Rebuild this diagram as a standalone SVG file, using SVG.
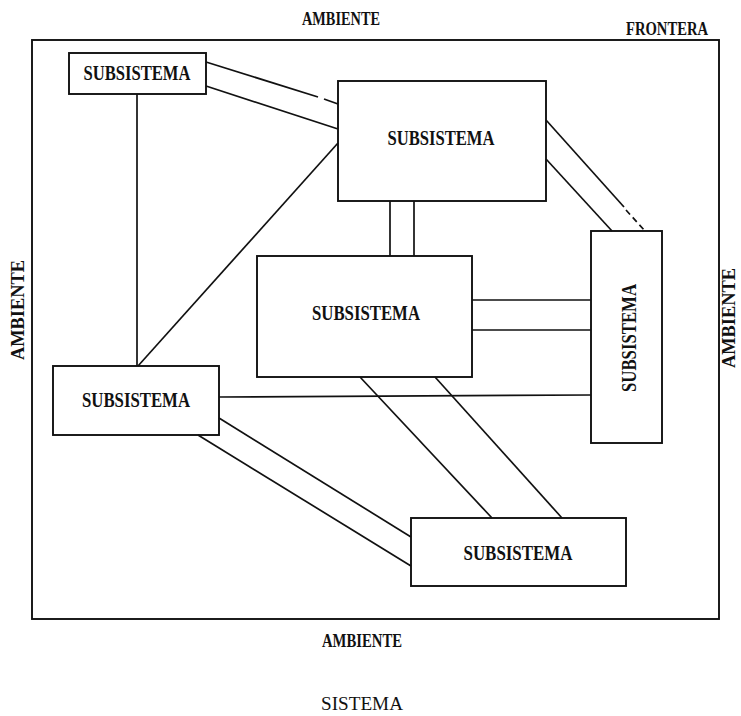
<svg xmlns="http://www.w3.org/2000/svg" width="741" height="716" viewBox="0 0 741 716">
<style>
.box{fill:none;stroke:#111;stroke-width:1.9}
.ln{fill:none;stroke:#111;stroke-width:1.7}
.t{font-family:"Liberation Serif","DejaVu Serif",serif;font-size:20px;font-weight:bold;fill:#111;text-anchor:middle}
.lbl{font-family:"Liberation Serif","DejaVu Serif",serif;font-size:18px;font-weight:bold;fill:#111;text-anchor:middle}
</style>
<rect width="741" height="716" fill="#fff"/>
<g id="frame">
<rect class="box" x="32" y="40" width="687" height="579"/>
</g>
<g id="labels">
<text class="lbl" x="341" y="25" textLength="78" lengthAdjust="spacingAndGlyphs">AMBIENTE</text>
<text class="lbl" x="667" y="35" textLength="82" lengthAdjust="spacingAndGlyphs">FRONTERA</text>
<text class="lbl" transform="translate(24,310) rotate(-90)" x="0" y="0" textLength="100" lengthAdjust="spacingAndGlyphs">AMBIENTE</text>
<text class="lbl" transform="translate(735,318) rotate(-90)" x="0" y="0" textLength="100" lengthAdjust="spacingAndGlyphs">AMBIENTE</text>
<text class="lbl" x="362" y="647" textLength="80" lengthAdjust="spacingAndGlyphs">AMBIENTE</text>
<text class="lbl" x="362" y="710" textLength="82" lengthAdjust="spacingAndGlyphs" style="font-weight:normal;font-size:19px">SISTEMA</text>
</g>
<g id="connectors">
<line class="ln" x1="206" y1="62" x2="318" y2="97"/>
<line class="ln" x1="324" y1="99" x2="338" y2="104"/>
<line class="ln" x1="206" y1="86" x2="338" y2="129"/>
<line class="ln" x1="137" y1="94" x2="137" y2="366"/>
<line class="ln" x1="138" y1="366" x2="338" y2="143"/>
<line class="ln" x1="390" y1="201" x2="390" y2="256"/>
<line class="ln" x1="414" y1="201" x2="414" y2="256"/>
<line class="ln" x1="546" y1="120" x2="624" y2="207"/>
<line class="ln" x1="626" y1="210" x2="645" y2="231" stroke-dasharray="6 4"/>
<line class="ln" x1="546" y1="159" x2="612" y2="231"/>
<line class="ln" x1="472" y1="300" x2="591" y2="300"/>
<line class="ln" x1="472" y1="330" x2="591" y2="330"/>
<line class="ln" x1="219" y1="397" x2="591" y2="395"/>
<line class="ln" x1="360" y1="377" x2="492" y2="518"/>
<line class="ln" x1="435" y1="377" x2="562" y2="518"/>
<line class="ln" x1="219" y1="418" x2="411" y2="537"/>
<line class="ln" x1="198" y1="435" x2="411" y2="566"/>
</g>
<g id="nodeA">
<rect class="box" x="69" y="53" width="137" height="41"/>
<text class="t" x="137" y="80" textLength="107" lengthAdjust="spacingAndGlyphs">SUBSISTEMA</text>
</g>
<g id="nodeB">
<rect class="box" x="338" y="81" width="208" height="120"/>
<text class="t" x="441" y="145" textLength="107" lengthAdjust="spacingAndGlyphs">SUBSISTEMA</text>
</g>
<g id="nodeC">
<rect class="box" x="591" y="231" width="71" height="212"/>
<text class="t" transform="translate(636,338) rotate(-90)" x="0" y="0" textLength="108" lengthAdjust="spacingAndGlyphs">SUBSISTEMA</text>
</g>
<g id="nodeD">
<rect class="box" x="257" y="256" width="215" height="121"/>
<text class="t" x="366" y="320" textLength="108" lengthAdjust="spacingAndGlyphs">SUBSISTEMA</text>
</g>
<g id="nodeE">
<rect class="box" x="53" y="366" width="166" height="69"/>
<text class="t" x="136" y="407" textLength="108" lengthAdjust="spacingAndGlyphs">SUBSISTEMA</text>
</g>
<g id="nodeF">
<rect class="box" x="411" y="518" width="215" height="68"/>
<text class="t" x="518" y="560" textLength="109" lengthAdjust="spacingAndGlyphs">SUBSISTEMA</text>
</g>
</svg>
